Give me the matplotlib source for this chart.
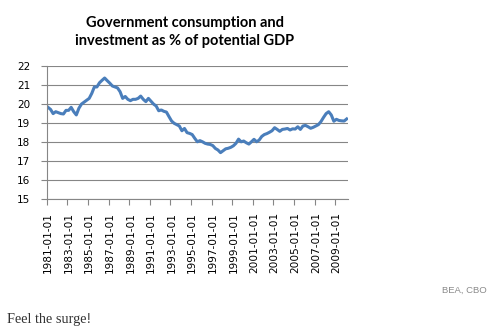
import matplotlib
matplotlib.use("Agg")
import matplotlib.pyplot as plt
import numpy as np

# Quarterly values, 1981Q1 .. 2010Q1
values = [
    19.83, 19.72, 19.50, 19.60, 19.55, 19.50, 19.48, 19.67,
    19.67, 19.83, 19.60, 19.43, 19.78, 20.00, 20.10, 20.20,
    20.30, 20.56, 20.90, 20.90, 21.12, 21.25, 21.37, 21.23,
    21.10, 20.95, 20.90, 20.85, 20.65, 20.30, 20.40, 20.25,
    20.18, 20.25, 20.25, 20.30, 20.42, 20.25, 20.13, 20.30,
    20.15, 20.00, 19.90, 19.65, 19.69, 19.62, 19.58, 19.34,
    19.11, 18.99, 18.92, 18.85, 18.60, 18.72, 18.50, 18.46,
    18.40, 18.20, 18.02, 18.08, 18.02, 17.94, 17.90, 17.88,
    17.82, 17.67, 17.59, 17.45, 17.55, 17.65, 17.68, 17.73,
    17.81, 17.94, 18.16, 18.02, 18.06, 17.97, 17.90, 18.02,
    18.15, 18.02, 18.11, 18.30, 18.40, 18.45, 18.52, 18.60,
    18.76, 18.67, 18.57, 18.67, 18.69, 18.72, 18.64, 18.70,
    18.69, 18.81, 18.67, 18.85, 18.88, 18.81, 18.73, 18.78,
    18.85, 18.92, 19.08, 19.30, 19.50, 19.60, 19.43, 19.10,
    19.20, 19.14, 19.12, 19.11, 19.22,
]
quarters = [f"{1981 + i // 4}-{(i % 4) * 3 + 1:02d}-01" for i in range(len(values))]
tick_labels = [q for q in quarters if q.endswith("-01-01") and int(q[:4]) % 2 == 1]
y_ticks = [15, 16, 17, 18, 19, 20, 21, 22]

title = "Government consumption and\ninvestment as % of potential GDP"
source = "BEA, CBO"
caption = "Feel the surge!"

fig = plt.figure(figsize=(4.91, 3.36), dpi=100)
ax = fig.add_axes([46.7 / 491, 1 - 199.3 / 336, 301.3 / 491, 133.3 / 336])

x = np.arange(len(values))
ax.plot(x, values, color="#4a7ebb", linewidth=2.2, solid_joinstyle="round")

n = len(values)
ax.set_xlim(-0.5, n - 0.5)
ax.set_ylim(15, 22)
ax.set_yticks(y_ticks)
ax.set_yticklabels([str(v) for v in y_ticks], fontsize=7.5, family="DejaVu Sans")
ax.yaxis.grid(True, color="#868686", linewidth=0.8)
ax.set_axisbelow(True)

pos = [quarters.index(t) for t in tick_labels]
ax.set_xticks(pos)
ax.set_xticklabels(tick_labels, rotation=90, fontsize=7.6, family="DejaVu Sans")
ax.set_xticks([p - 0.5 for p in pos], minor=True)
ax.tick_params(axis="x", which="major", length=0, pad=9)
ax.tick_params(axis="x", which="minor", length=4, color="#868686", width=0.8)
ax.tick_params(axis="y", length=4, color="#868686", width=0.8, pad=8)

for s in ["top", "right"]:
    ax.spines[s].set_visible(False)
for s in ["left", "bottom"]:
    ax.spines[s].set_color("#868686")
    ax.spines[s].set_linewidth(0.8)

fig.text(185 / 491, 1 - 32 / 336, title, ha="center", va="center",
         fontsize=10.5, fontweight="bold", family="Lato", linespacing=1.35)
fig.text(487 / 491, 1 - 290 / 336, source, ha="right", va="center",
         fontsize=6.8, color="#8a8a8a", family="Liberation Sans")
fig.text(7 / 491, 1 - 320 / 336, caption, ha="left", va="center",
         fontsize=10.3, color="#333333", family="Liberation Serif")

fig.savefig("out.png", dpi=100)
